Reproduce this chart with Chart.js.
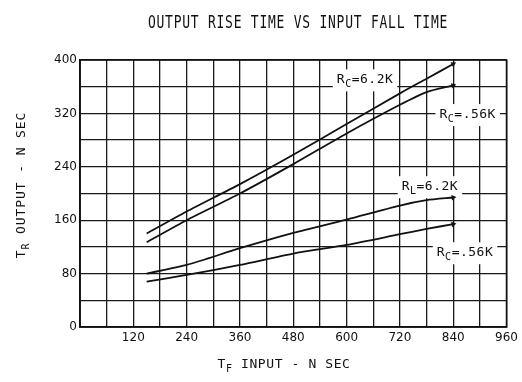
<!DOCTYPE html>
<html>
<head>
<meta charset="utf-8">
<script src="https://cdn.jsdelivr.net/npm/chart.js@4.4.1/dist/chart.umd.min.js"></script>
<style>
  html, body { margin: 0; padding: 0; background: #fff; }
  canvas { display: block; }
</style>
</head>
<body>
<canvas id="riseChart" width="522" height="382"></canvas>
<script>
// input fall time (ns) where each curve was read
const tfInput = [150, 240, 360, 480, 600, 720, 780, 840];

// output rise time (ns) per load
const rc62Upper = [140, 173, 214, 258, 304, 350, 372, 394];
const rc56Upper = [127, 160, 200, 244, 290, 333, 352, 362];
const rl62 = [80, 93, 118, 141, 161, 182, 190, 194];
const rc56Lower = [68, 78, 93, 110, 123, 139, 147, 154];

const xTickLabels = [120, 240, 360, 480, 600, 720, 840, 960];
const yTickLabels = [0, 80, 160, 240, 320, 400];

// curve tags: main letter, subscript, rest, anchor in data units
const curveTags = [
  { main: 'R', sub: 'C', rest: '=6.2K', x: 578, y: 365 },
  { main: 'R', sub: 'C', rest: '=.56K', x: 809, y: 313 },
  { main: 'R', sub: 'L', rest: '=6.2K', x: 724, y: 205 },
  { main: 'R', sub: 'C', rest: '=.56K', x: 803, y: 106 }
];

const INK = '#111';
const MONO = '"DejaVu Sans Mono", monospace';

function points(ys) {
  return tfInput.map((x, i) => ({ x: x, y: ys[i] }));
}

// only the last point shows, as a small arrow tip
function tipRadius(ys) {
  return ys.map((_, i) => i === ys.length - 1 ? 3.2 : 0);
}

function curve(ys, rot) {
  return {
    data: points(ys),
    borderColor: INK,
    backgroundColor: INK,
    borderWidth: 1.8,
    tension: 0.25,
    pointStyle: 'triangle',
    pointRotation: rot,
    pointRadius: tipRadius(ys),
    pointBorderWidth: 0
  };
}

// runs of text with subscripts
function richWidth(ctx, parts) {
  let w = 0;
  parts.forEach(p => {
    ctx.font = p.size + 'px ' + MONO;
    w += ctx.measureText(p.t).width;
  });
  return w;
}

function drawRich(ctx, parts, x, y) {
  let cx = x;
  parts.forEach(p => {
    ctx.font = p.size + 'px ' + MONO;
    ctx.fillText(p.t, cx, y + (p.dy || 0));
    cx += ctx.measureText(p.t).width;
  });
}

const sheetText = {
  id: 'sheetText',
  beforeDatasetsDraw(chart) {
    const ctx = chart.ctx;
    const xs = chart.scales.x, ys = chart.scales.y;
    ctx.save();
    ctx.letterSpacing = '0.5px';
    ctx.textBaseline = 'alphabetic';
    ctx.textAlign = 'left';
    curveTags.forEach(tag => {
      const parts = [
        { t: tag.main, size: 13 },
        { t: tag.sub, size: 10, dy: 4 },
        { t: tag.rest, size: 13 }
      ];
      const px = xs.getPixelForValue(tag.x);
      const py = ys.getPixelForValue(tag.y);
      const w = richWidth(ctx, parts);
      ctx.fillStyle = '#fff';
      ctx.fillRect(px - 4, py - 14, w + 8, 22);
      ctx.fillStyle = INK;
      drawRich(ctx, parts, px, py);
    });
    ctx.restore();
  },
  afterDraw(chart) {
    const ctx = chart.ctx;
    const a = chart.chartArea;
    ctx.save();
    // plot frame
    ctx.strokeStyle = INK;
    ctx.lineWidth = 1.6;
    ctx.strokeRect(a.left, a.top, a.right - a.left, a.bottom - a.top);

    ctx.fillStyle = INK;
    ctx.textAlign = 'left';
    ctx.textBaseline = 'alphabetic';

    // heading, lettered tall and narrow
    ctx.letterSpacing = '0.75px';
    const head = [{ t: 'OUTPUT RISE TIME VS INPUT FALL TIME', size: 13 }];
    const hw = richWidth(ctx, head);
    ctx.save();
    ctx.translate(298 - hw / 2, 28);
    ctx.scale(1, 1.3);
    drawRich(ctx, head, 0, 0);
    ctx.restore();

    // x axis title
    ctx.letterSpacing = '0.6px';
    const xt = [
      { t: 'T', size: 13 },
      { t: 'F', size: 10, dy: 4 },
      { t: ' INPUT - N SEC', size: 13 }
    ];
    const xw = richWidth(ctx, xt);
    drawRich(ctx, xt, 284 - xw / 2, 368);

    // y axis title, reading bottom to top
    const yt = [
      { t: 'T', size: 13 },
      { t: 'R', size: 10, dy: 4 },
      { t: ' OUTPUT - N SEC', size: 13 }
    ];
    ctx.letterSpacing = '0.9px';
    const yw = richWidth(ctx, yt);
    ctx.translate(25, 185);
    ctx.rotate(-Math.PI / 2);
    drawRich(ctx, yt, -yw / 2, 0);
    ctx.restore();
  }
};

new Chart(document.getElementById('riseChart').getContext('2d'), {
  type: 'line',
  data: {
    datasets: [
      curve(rc62Upper, 62),
      curve(rc56Upper, 72),
      curve(rl62, 82),
      curve(rc56Lower, 78)
    ]
  },
  options: {
    responsive: false,
    animation: false,
    layout: { padding: { top: 60, right: 15, left: 0, bottom: 0 } },
    plugins: { legend: { display: false }, tooltip: { enabled: false }, title: { display: false } },
    scales: {
      x: {
        type: 'linear',
        min: 0,
        max: 960,
        afterFit: s => { s.height = 55; },
        ticks: {
          stepSize: 60,
          autoSkip: false,
          maxRotation: 0,
          padding: 4,
          color: INK,
          font: { family: '"DejaVu Sans", sans-serif', size: 12 },
          callback: v => xTickLabels.includes(v) ? String(v) : ''
        },
        grid: { color: '#1a1a1a', lineWidth: 1.3, drawTicks: false },
        border: { display: true, color: INK, width: 1.6 }
      },
      y: {
        min: 0,
        max: 400,
        afterFit: s => { s.width = 80; },
        ticks: {
          stepSize: 40,
          autoSkip: false,
          padding: 3,
          color: INK,
          font: { family: '"DejaVu Sans", sans-serif', size: 12 },
          callback: v => yTickLabels.includes(v) ? String(v) : ''
        },
        grid: { color: '#1a1a1a', lineWidth: 1.3, drawTicks: false },
        border: { display: true, color: INK, width: 1.6 }
      }
    }
  },
  plugins: [sheetText]
});
</script>
</body>
</html>
